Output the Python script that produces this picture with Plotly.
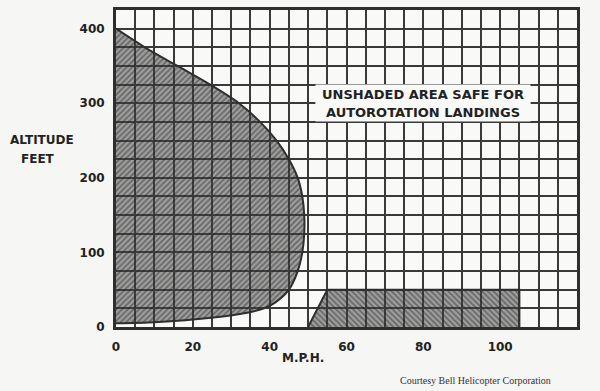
import plotly.graph_objects as go

# ---- data ----
mph_ticks = [0, 20, 40, 60, 80, 100]
ft_ticks = [0, 100, 200, 300, 400]

# left "avoid" region (height-velocity curve), mph vs feet
danger_mph = [0, 7.5, 16.0, 24.5, 32.0, 37.5, 41.8, 45.0, 47.3, 48.5, 49.0, 49.0,
              48.5, 47.3, 45.0, 41.5, 38.5, 33.0, 26.0, 18.0, 10.0, 0]
danger_ft = [400, 375, 350, 325, 300, 275, 250, 225, 200, 175, 150, 125,
             100, 75, 50, 33, 25, 18, 13, 9, 6.5, 5]

# low-altitude high-speed region
low_mph = [50, 55, 105, 105]
low_ft = [0, 50, 50, 0]

note_line1 = "UNSHADED AREA SAFE FOR"
note_line2 = "AUTOROTATION LANDINGS"

INK = "#2e2e2e"
GRID = "#3a3a3a"
PAPER = "#f6f6f4"
PLOT = "#f9f9f8"

fig = go.Figure()

fig.add_trace(go.Scatter(
    x=danger_mph, y=danger_ft, mode="lines", fill="toself",
    line=dict(color=INK, width=2, shape="spline", smoothing=0.9),
    fillcolor="rgba(70,70,70,0.5)",
    fillpattern=dict(shape="/", size=4, solidity=0.45,
                     bgcolor="rgba(70,70,70,0.5)", fgcolor="rgba(25,25,25,0.85)"),
    hoverinfo="skip", showlegend=False))

fig.add_trace(go.Scatter(
    x=low_mph, y=low_ft, mode="lines", fill="toself",
    line=dict(color=INK, width=2),
    fillcolor="rgba(70,70,70,0.5)",
    fillpattern=dict(shape="\\", size=4, solidity=0.45,
                     bgcolor="rgba(70,70,70,0.5)", fgcolor="rgba(25,25,25,0.85)"),
    hoverinfo="skip", showlegend=False))

bold = dict(family="DejaVu Sans", color="#222222", weight="bold")

fig.update_layout(
    width=600, height=391,
    margin=dict(l=116, r=23, t=7, b=64),
    paper_bgcolor=PAPER, plot_bgcolor=PLOT,
    showlegend=False,
)

fig.update_xaxes(
    range=[0, 120], tickmode="array", tickvals=mph_ticks,
    showgrid=True, gridcolor=GRID, gridwidth=2,
    minor=dict(tick0=0, dtick=5, showgrid=True, gridcolor=GRID, gridwidth=2),
    zeroline=False, showline=True, mirror=True, linecolor=INK, linewidth=3,
    ticks="", ticklabelstandoff=7,
    tickfont=dict(size=12, **bold),
)
fig.update_yaxes(
    range=[0, 425], tickmode="array", tickvals=ft_ticks,
    showgrid=True, gridcolor=GRID, gridwidth=2,
    minor=dict(tick0=0, dtick=25, showgrid=True, gridcolor=GRID, gridwidth=2),
    zeroline=False, showline=True, mirror=True, linecolor=INK, linewidth=3,
    ticks="", ticklabelstandoff=6,
    tickfont=dict(size=12, **bold),
)

# note box (two stacked boxes forming one panel)
for txt, yv in [(note_line1, 312), (note_line2, 288)]:
    fig.add_annotation(x=80, y=yv, xref="x", yref="y", text=txt, showarrow=False,
                       width=214, height=18, bgcolor=PLOT, borderpad=0,
                       font=dict(size=13, **bold))

fig.add_annotation(x=-0.1616, y=0.5906, xref="paper", yref="paper", text="ALTITUDE",
                   showarrow=False, xanchor="center", yanchor="middle",
                   font=dict(size=12, **bold))
fig.add_annotation(x=-0.169, y=0.531, xref="paper", yref="paper", text="FEET",
                   showarrow=False, xanchor="center", yanchor="middle",
                   font=dict(size=12, **bold))
fig.add_annotation(x=0.4056, y=-0.097, xref="paper", yref="paper", text="M.P.H.",
                   showarrow=False, xanchor="center", yanchor="middle",
                   font=dict(size=12, **bold))
fig.add_annotation(x=0.948, y=-0.169, xref="paper", yref="paper",
                   text="Courtesy Bell Helicopter Corporation",
                   showarrow=False, xanchor="right", yanchor="middle",
                   font=dict(family="Liberation Serif", size=10, color="#333333"))

fig.write_html("out.html", config={"displayModeBar": False},
               post_script="document.body.style.margin='0';document.body.style.overflow='hidden';")
